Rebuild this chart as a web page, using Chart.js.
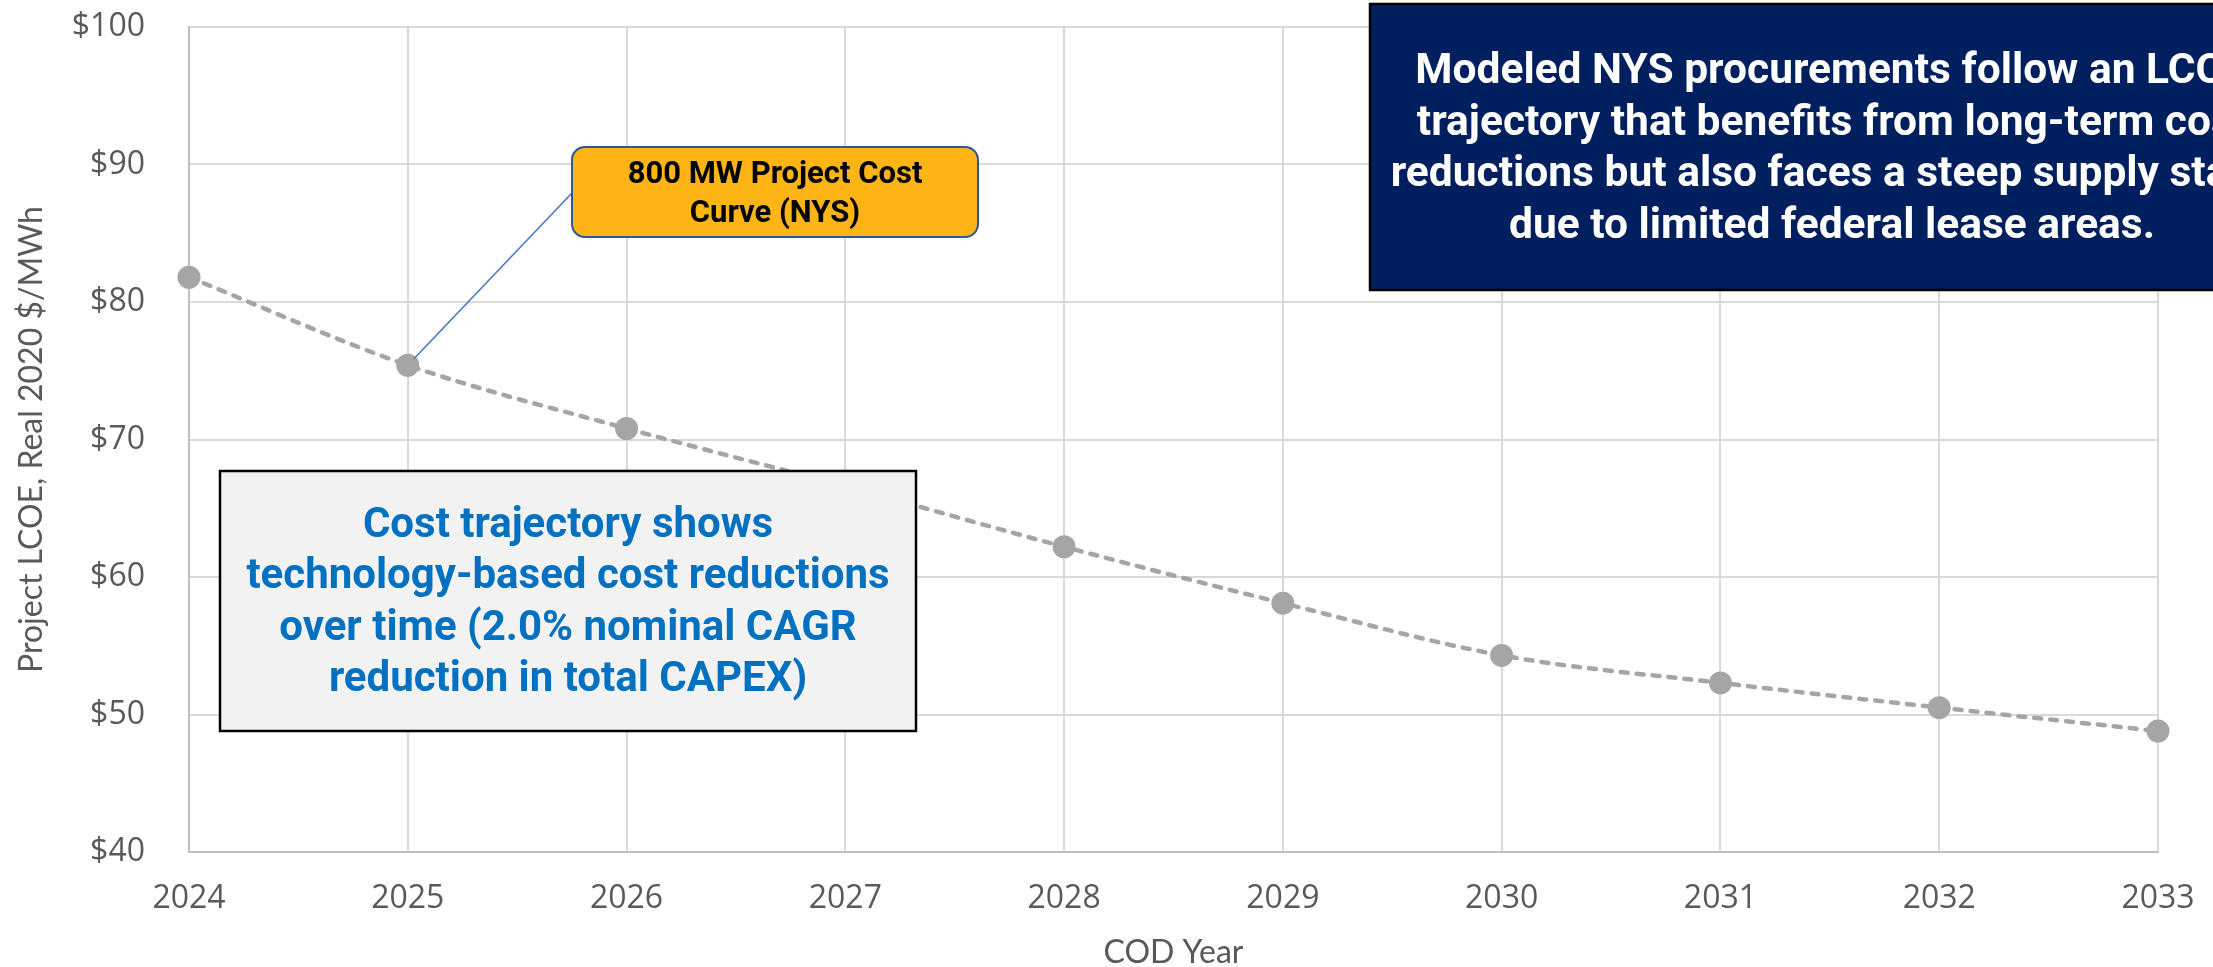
<!DOCTYPE html>
<html>
<head>
<meta charset="utf-8">
<script src="https://cdn.jsdelivr.net/npm/chart.js@4.4.1/dist/chart.umd.min.js"></script>
<style>
  html, body { margin: 0; padding: 0; background: #fff; }
  #wrap { width: 2213px; height: 967px; }
</style>
</head>
<body>
<div id="wrap"><canvas id="lcoe" width="2213" height="967"></canvas></div>
<script>
// data
const years = ['2024', '2025', '2026', '2027', '2028', '2029', '2030', '2031', '2032', '2033']
const lcoe = [81.8, 75.4, 70.8, 66.6, 62.2, 58.1, 54.3, 52.3, 50.5, 48.8]
const yTicks = [40, 50, 60, 70, 80, 90, 100]

const yTitle = 'Project LCOE, Real 2020 $/MWh'
const xTitle = 'COD Year'
const calloutLines = ['800 MW Project Cost', 'Curve (NYS)']
const noteLines = ['Cost trajectory shows', 'technology-based cost reductions', 'over time (2.0% nominal CAGR', 'reduction in total CAPEX)']
const navyLines = ['Modeled NYS procurements follow an LCOE', 'trajectory that benefits from long-term cost', 'reductions but also faces a steep supply stack', 'due to limited federal lease areas.']

const grey = '#595959'

const drawLines = (ctx, lines, cx, y0, step, font, color) => {
  ctx.font = font
  ctx.fillStyle = color
  ctx.textAlign = 'center'
  ctx.textBaseline = 'alphabetic'
  lines.forEach((t, i) => ctx.fillText(t, cx, y0 + i * step))
}

// text boxes and the callout leader drawn on top of the chart
const notes = {
  id: 'notes',
  afterDatasetsDraw(chart) {
    const ctx = chart.ctx
    ctx.save()

    // leader line from the 2025 point to the callout
    const pt = chart.getDatasetMeta(0).data[1]
    const ex = 572, ey = 193
    const ang = Math.atan2(ey - pt.y, ex - pt.x)
    ctx.strokeStyle = '#4472C4'
    ctx.lineWidth = 1.5
    ctx.beginPath()
    ctx.moveTo(pt.x + Math.cos(ang) * 9, pt.y + Math.sin(ang) * 9)
    ctx.lineTo(ex, ey)
    ctx.stroke()

    // orange callout
    ctx.beginPath()
    ctx.roundRect(572, 147, 406, 90, 13)
    ctx.fillStyle = '#FDB515'
    ctx.fill()
    ctx.strokeStyle = '#2F5597'
    ctx.lineWidth = 2
    ctx.stroke()
    drawLines(ctx, calloutLines, 775, 183, 38.5, 'bold 31px Roboto', '#000')

    // grey note
    ctx.fillStyle = '#F2F2F2'
    ctx.fillRect(220, 471, 696, 260)
    ctx.strokeStyle = '#000'
    ctx.lineWidth = 2.5
    ctx.strokeRect(220, 471, 696, 260)
    drawLines(ctx, noteLines, 568, 537, 51.3, 'bold 42px Roboto', '#0070C0')

    // navy note, runs past the right edge
    ctx.fillStyle = '#001F5F'
    ctx.fillRect(1370, 4, 940, 286)
    ctx.strokeStyle = '#000'
    ctx.lineWidth = 2.5
    ctx.strokeRect(1370, 4, 940, 286)
    drawLines(ctx, navyLines, 1832, 83, 51.5, 'bold 42.5px Roboto', '#fff')

    ctx.restore()
  }
}

new Chart(document.getElementById('lcoe'), {
  type: 'line',
  data: {
    labels: years,
    datasets: [{
      data: lcoe,
      borderColor: '#A5A5A5',
      borderWidth: 4.5,
      borderDash: [7, 9],
      borderCapStyle: 'round',
      cubicInterpolationMode: 'monotone',
      pointRadius: 11.5,
      pointHoverRadius: 11.5,
      pointBackgroundColor: '#A5A5A5',
      pointBorderWidth: 0,
      clip: false
    }]
  },
  options: {
    responsive: false,
    animation: false,
    devicePixelRatio: 1,
    events: [],
    layout: { padding: { top: 27, right: 55, left: 0, bottom: 0 } },
    plugins: { legend: { display: false }, tooltip: { enabled: false } },
    scales: {
      x: {
        grid: { color: '#D9D9D9', lineWidth: 2, drawTicks: false },
        border: { color: '#BFBFBF', width: 2 },
        ticks: { color: grey, font: { family: 'Open Sans', size: 32 }, padding: 28, maxRotation: 0 },
        title: {
          display: true, text: xTitle, color: grey,
          font: { family: 'Lato', size: 32, lineHeight: 0.875 },
          padding: 0
        },
        afterFit: s => { s.height = 115; s.paddingLeft = 0; s.paddingRight = 0 }
      },
      y: {
        min: yTicks[0],
        max: yTicks[yTicks.length - 1],
        afterBuildTicks: s => { s.ticks = yTicks.map(v => ({ value: v })) },
        grid: { color: '#D9D9D9', lineWidth: 2, drawTicks: false },
        border: { color: '#BFBFBF', width: 2 },
        ticks: { color: grey, font: { family: 'Open Sans', size: 32 }, padding: 44, callback: v => '$' + v },
        title: {
          display: true, text: yTitle, color: grey,
          font: { family: 'Lato', size: 32, lineHeight: 1.2 },
          padding: { top: 12, bottom: 0 }
        },
        afterFit: s => { s.width = 189; s.paddingTop = 0; s.paddingBottom = 0 }
      }
    }
  },
  plugins: [notes]
})
</script>
</body>
</html>
